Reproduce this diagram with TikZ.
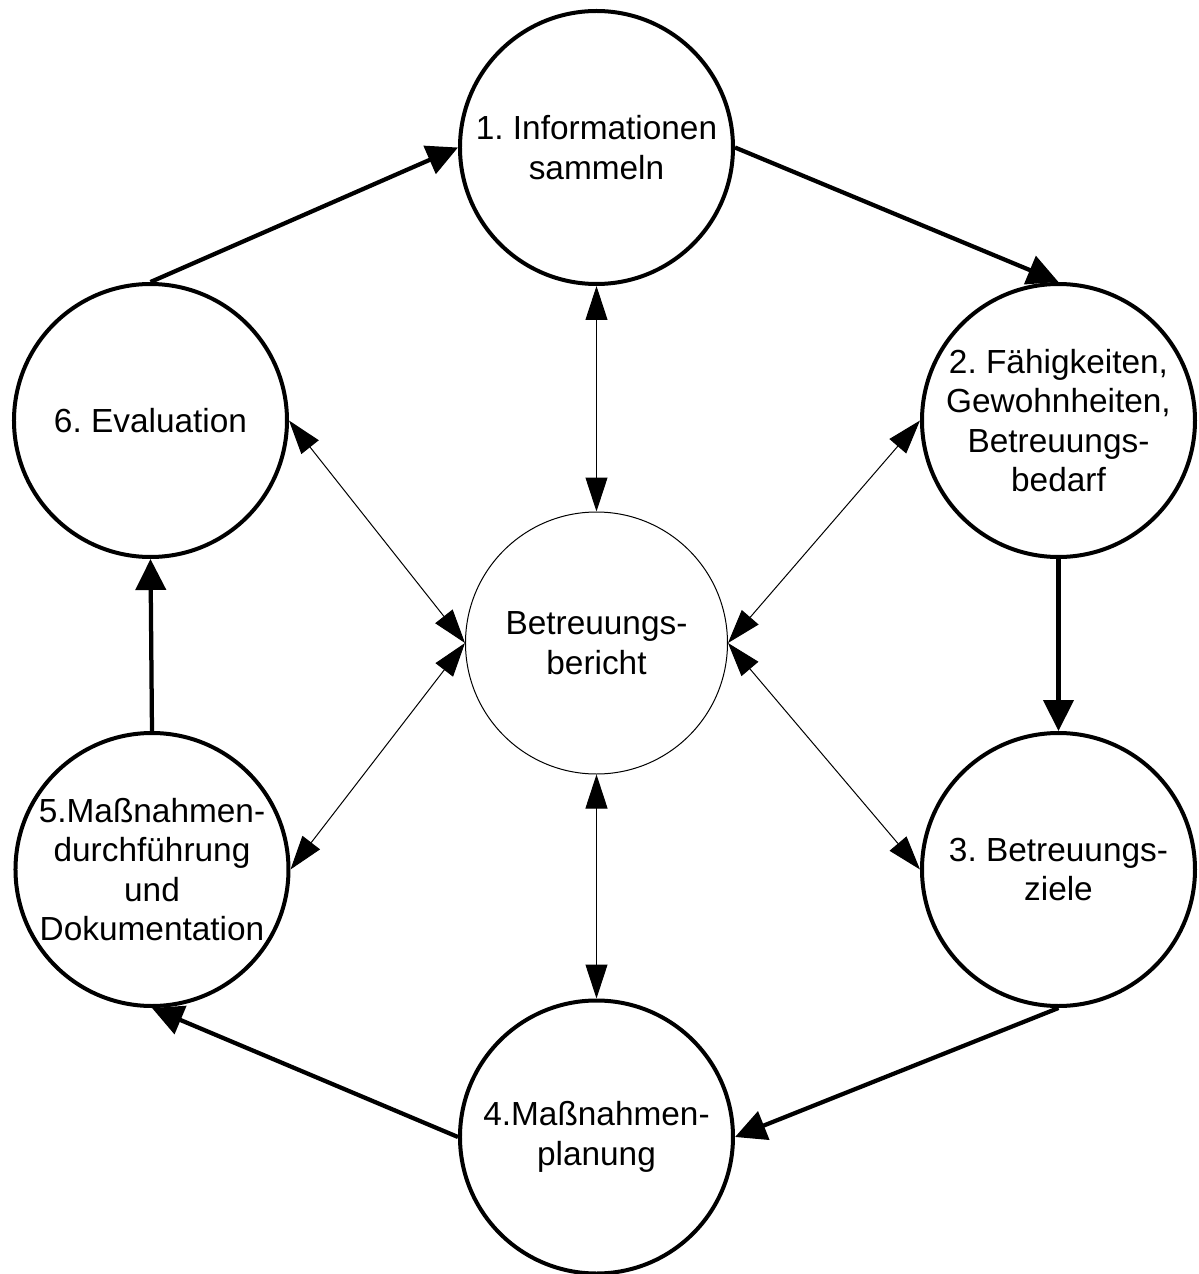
\documentclass[tikz,border=0pt]{standalone}
\usepackage{fontspec}
\setmainfont{Liberation Sans}
\frenchspacing
\usetikzlibrary{arrows.meta}
\tikzstyle{phase} = [circle,draw,line width=.08cm,minimum size=5.46cm,inner sep=0pt,align=center,font=\fontsize{19}{22.5}\selectfont]
\tikzstyle{hub} = [circle,draw,line width=.02cm,minimum size=5.24cm,inner sep=0pt,align=center,font=\fontsize{19}{22.5}\selectfont]
\tikzstyle{flow} = [-{Triangle[length=.62cm,width=.6cm]},line width=.085cm]
\tikzstyle{link} = [{Triangle[length=.68cm,width=.44cm]}-{Triangle[length=.68cm,width=.44cm]},line width=.02cm]
\begin{document}
\begin{tikzpicture}
	\useasboundingbox (-11.93,-12.62) rectangle (12.05,12.86);
	\node [hub](b){Betreuungs-\\bericht};
	\node [phase,above of=b,yshift=8.91cm](s1){1. Informationen\\sammeln};
	\node [phase,right of=b,xshift=8.24cm,yshift=4.45cm](s2){2. Fähigkeiten,\\Gewohnheiten,\\Betreuungs-\\bedarf};
	\node [phase,right of=b,xshift=8.24cm,yshift=-4.53cm](s3){3. Betreuungs-\\ziele};
	\node [phase,below of=b,yshift=-8.88cm](s4){4.Maßnahmen-\\planung};
	\node [phase,left of=b,xshift=-7.89cm,yshift=-4.53cm](s5){5.Maßnahmen-\\durchführung\\und\\Dokumentation};
	\node [phase,left of=b,xshift=-7.92cm,yshift=4.45cm](s6){6. Evaluation};

	\draw[flow](s6.north)--(s1.west);
	\draw[flow](s1.east)--(s2.north);
	\draw[flow](s2.south)--(s3.north);
	\draw[flow](s3.south)--(s4.east);
	\draw[flow](s4.west)--(s5.south);
	\draw[flow](s5.north)--(s6.south);

	\draw[link](b.north)--(s1.south);
	\draw[link](b.east)--(s2.west);
	\draw[link](b.east)--(s3.west);
	\draw[link](b.south)--(s4.north);
	\draw[link](b.west)--(s5.east);
	\draw[link](b.west)--(s6.east);
\end{tikzpicture}
\end{document}
